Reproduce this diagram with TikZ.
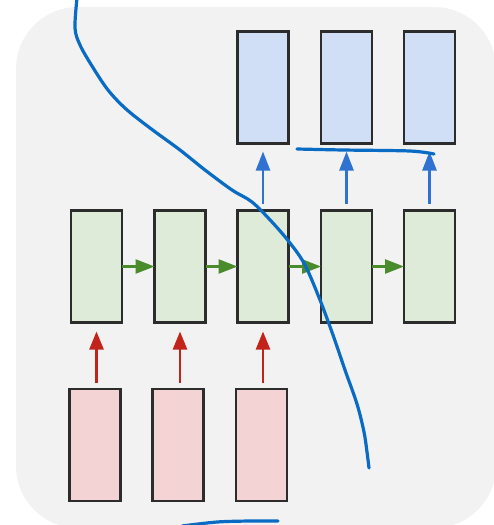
\documentclass[tikz,border=0pt]{standalone}
\usetikzlibrary{arrows.meta}
\definecolor{panel}{HTML}{F2F2F2}
\definecolor{outfill}{HTML}{D0DFF6}
\definecolor{hidfill}{HTML}{DDEBD8}
\definecolor{infill}{HTML}{F3D3D3}
\definecolor{boxedge}{HTML}{2C2C2C}
\definecolor{uparrow}{HTML}{2F72D2}
\definecolor{recarrow}{HTML}{4A8B2C}
\definecolor{inarrow}{HTML}{C2241B}
\definecolor{ink}{HTML}{0A6BC4}
\tikzset{
  cell/.style={draw=boxedge, line width=2.3pt, rectangle, outer sep=0pt,
    minimum width=51pt, minimum height=112pt, inner sep=0pt},
  outcell/.style={cell, fill=outfill},
  hidcell/.style={cell, fill=hidfill},
  incell/.style={cell, fill=infill},
  outarrow/.style={draw=uparrow, line width=2.6pt,
    -{Triangle[length=19pt,width=14pt]}, shorten <=7pt, shorten >=8pt},
  hidarrow/.style={draw=recarrow, line width=2.6pt,
    -{Triangle[length=19pt,width=14pt]}},
  inputarrow/.style={draw=inarrow, line width=2.4pt,
    -{Triangle[length=18pt,width=14pt]}, shorten <=6pt, shorten >=9pt},
  pen/.style={draw=ink, line width=3.2pt, line cap=round, line join=round}
}
\begin{document}
\begin{tikzpicture}[x=1pt, y=-1pt]
  \useasboundingbox (0,0) rectangle (493,525);
  % rounded backdrop panel
  \fill[panel, rounded corners=62pt] (16,7) rectangle (496,528);

  % output layer
  \node[outcell] (o1) at (263,87.5) {};
  \node[outcell] (o2) at (346.5,87.5) {};
  \node[outcell] (o3) at (429.5,87.5) {};

  % hidden layer
  \node[hidcell] (h1) at (96.5,266.5) {};
  \node[hidcell] (h2) at (180,266.5) {};
  \node[hidcell] (h3) at (263,266.5) {};
  \node[hidcell] (h4) at (346.5,266.5) {};
  \node[hidcell] (h5) at (429.5,266.5) {};

  % input layer
  \node[incell] (i1) at (95,445) {};
  \node[incell] (i2) at (178,445) {};
  \node[incell] (i3) at (261.5,445) {};

  % recurrent links
  \draw[hidarrow] (h1) -- (h2);
  \draw[hidarrow] (h2) -- (h3);
  \draw[hidarrow] (h3) -- (h4);
  \draw[hidarrow] (h4) -- (h5);

  % hidden to output
  \draw[outarrow] (h3) -- (o1);
  \draw[outarrow] (h4) -- (o2);
  \draw[outarrow] (h5) -- (o3);

  % input to hidden
  \draw[inputarrow] (h1.south |- i1.north) -- (h1.south);
  \draw[inputarrow] (h2.south |- i2.north) -- (h2.south);
  \draw[inputarrow] (h3.south |- i3.north) -- (h3.south);

  % freehand pen strokes
  \draw[pen] plot[smooth, tension=0.55] coordinates {
    (77,-2) (75,28) (80,45) (92,66) (108,90) (126,109) (150,128)
    (180,150) (205,170) (232,190) (252,202) (272,222) (290,243)
    (305,265) (320,300) (333,335) (345,370) (357,404) (364,432)
    (367,452) (369,468)};
  \draw[pen] plot[smooth, tension=0.5] coordinates {
    (297,149) (343,150) (410,151) (434,154)};
  \draw[pen] plot[smooth, tension=0.5] coordinates {
    (182,526) (217,522) (250,521) (278,521)};
\end{tikzpicture}
\end{document}
